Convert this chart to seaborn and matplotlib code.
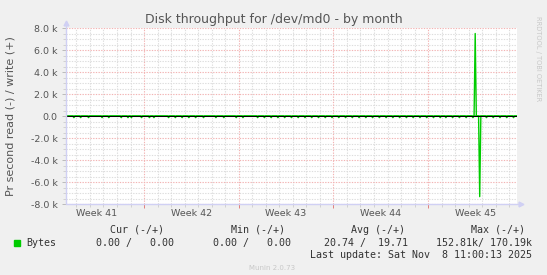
import numpy as np
import pandas as pd
import matplotlib
matplotlib.use("Agg")
import matplotlib.pyplot as plt
import seaborn as sns

# ---- data (days since start of ISO week 41) ----
week_labels = ["Week 41", "Week 42", "Week 43", "Week 44", "Week 45"]
week_label_days = [3.5, 10.5, 17.5, 24.5, 31.5]
week_boundaries = [7, 14, 21, 28]
y_ticks = [-8000, -6000, -4000, -2000, 0, 2000, 4000, 6000, 8000]
y_tick_labels = ["-8.0 k", "-6.0 k", "-4.0 k", "-2.0 k", "0.0",
                 "2.0 k", "4.0 k", "6.0 k", "8.0 k"]

# small periodic reads (shown negative)
blip_days = [1.83, 2.34, 2.88, 3.87, 4.39, 5.35, 5.84, 6.04, 6.83, 7.39, 7.76,
             8.85, 9.34, 9.83, 10.35, 10.84, 11.38, 12.32, 12.86, 13.78, 14.34,
             15.42, 15.92, 16.40, 16.88, 17.41, 17.90, 18.38, 18.87, 19.41,
             19.90, 20.39, 20.86, 21.40, 21.88, 22.37, 22.90, 23.38, 23.87,
             24.41, 24.90, 25.39, 25.86, 26.40, 26.88, 27.37, 27.90, 28.38,
             28.87, 29.32, 29.81, 30.30, 30.85, 31.31, 32.28, 32.81, 33.31,
             33.80, 34.34]
blip_read = [150] * len(blip_days)

write_spike_days = [31.49]
write_spike_vals = [7500]
read_spike_days = [31.78]
read_spike_vals = [7330]

x_start, x_end = 1.23, 34.57

# ---- build 2-hour sampled series ----
t = np.arange(x_start, x_end, 1 / 12)
read = np.zeros_like(t)
write = np.zeros_like(t)
for d, v in zip(blip_days, blip_read):
    read[np.argmin(np.abs(t - d))] = v
for d, v in zip(read_spike_days, read_spike_vals):
    read[np.argmin(np.abs(t - d))] = v
for d, v in zip(write_spike_days, write_spike_vals):
    write[np.argmin(np.abs(t - d))] = v
df = pd.DataFrame({"t": t, "read": -read, "write": write})

# ---- style ----
sns.set_theme(style="white")
plt.rcParams["font.family"] = ["DejaVu Sans"]

W, H = 547, 275
fig = plt.figure(figsize=(W / 100, H / 100), dpi=100, facecolor="#F0F0F0")
L, R, T, B = 66, 517, 28, 204
ax = fig.add_axes([L / W, 1 - B / H, (R - L) / W, (B - T) / H])
ax.set_facecolor("white")

def px(x, y):
    return x / W, 1 - y / H

# grid
for d in range(2, 35):
    if d not in week_boundaries:
        ax.axvline(d, color="#DDDDDD", lw=0.8, ls=(0, (1.2, 1.2)), zorder=0)
for y in np.arange(-8000, 8001, 500):
    if y % 2000 != 0:
        ax.axhline(y, color="#DDDDDD", lw=0.8, ls=(0, (1.2, 1.2)), zorder=0)
for y in y_ticks:
    ax.axhline(y, color="#F2B4B4", lw=0.8, ls=(0, (1.2, 1.2)), zorder=0.5)
for d in week_boundaries:
    ax.axvline(d, color="#F2B4B4", lw=0.8, ls=(0, (1.2, 1.2)), zorder=0.5)

sns.lineplot(data=df, x="t", y="write", ax=ax, color="#00CC00", lw=1.0, zorder=3)
sns.lineplot(data=df, x="t", y="read", ax=ax, color="#00CC00", lw=1.0, zorder=3)
ax.axhline(0, color="black", lw=0.75, zorder=4)

ax.set_xlim(x_start, x_end)
ax.set_ylim(-8000, 8000)
ax.set_xlabel("")
ax.set_ylabel("")
for s in ax.spines.values():
    s.set_visible(False)

ax.set_yticks(y_ticks)
ax.set_yticklabels(y_tick_labels)
ax.set_yticks(np.arange(-8000, 8001, 500), minor=True)
ax.tick_params(axis="y", which="major", length=3, width=0.7, color="#BBBBBB",
               labelsize=6.8, labelcolor="#555555", pad=3, left=True)
ax.tick_params(axis="y", which="minor", length=2, width=0.6, color="#CCCCCC", left=True)
ax.set_xticks(week_boundaries)
ax.set_xticklabels([])
ax.set_xticks(list(range(2, 35)), minor=True)
ax.tick_params(axis="x", which="major", length=3, width=0.7, color="#E08080", bottom=True)
ax.tick_params(axis="x", which="minor", length=2, width=0.6, color="#CCCCCC", bottom=True)

# axis lines with arrows
axc = "#D0D0F4"
ax.plot([0, 0], [0, 1.01], transform=ax.transAxes, color=axc, lw=1, clip_on=False, zorder=5)
ax.plot([0], [1.03], transform=ax.transAxes, marker="^", color=axc, ms=3.5, clip_on=False, zorder=5)
ax.plot([0, 1.003], [0, 0], transform=ax.transAxes, color=axc, lw=1, clip_on=False, zorder=5)
ax.plot([1.009], [0], transform=ax.transAxes, marker=">", color=axc, ms=3.5, clip_on=False, zorder=5)

# week labels
tr = matplotlib.transforms.blended_transform_factory(ax.transData, fig.transFigure)
for d, lab in zip(week_label_days, week_labels):
    ax.text(d, 1 - 214 / H, lab, transform=tr, ha="center", va="center",
            fontsize=6.8, color="#555555")

# texts
fig.text(*px(273.5, 19), "Disk throughput for /dev/md0 - by month", ha="center",
         va="center", fontsize=9, color="#555555")
fig.text(*px(10.5, 116), "Pr second read (-) / write (+)", rotation=90, ha="center",
         va="center", fontsize=8, color="#555555")
fig.text(*px(538, 58.7), "RRDTOOL / TOBI OETIKER", rotation=270, ha="center",
         va="center", fontsize=4.8, color="#C8C8C8")
fig.text(*px(272.5, 267.5), "Munin 2.0.73", ha="center", va="center",
         fontsize=5, color="#C8C8C8")

mono = dict(family="DejaVu Sans Mono", fontsize=7.2, color="#333333", va="center")
for xr, s in [(163.8, "Cur (-/+)"), (285, "Min (-/+)"), (405, "Avg (-/+)"), (525.4, "Max (-/+)")]:
    fig.text(*px(xr, 229.8), s, ha="right", **mono)
fig.text(*px(26, 242.7), "Bytes", ha="left", **mono)
for xr, s in [(173.5, "0.00 /   0.00"), (291.3, "0.00 /   0.00"),
              (408, "20.74 /  19.71"), (532.4, "152.81k/ 170.19k")]:
    fig.text(*px(xr, 242.7), s, ha="right", **mono)
fig.text(*px(532.4, 254.6), "Last update: Sat Nov  8 11:00:13 2025", ha="right", **mono)
fig.patches.append(matplotlib.patches.Rectangle(px(14, 245.7), 6 / W, 6 / H,
                   transform=fig.transFigure, color="#00CC00"))

fig.savefig("out.png", dpi=100, facecolor=fig.get_facecolor())
